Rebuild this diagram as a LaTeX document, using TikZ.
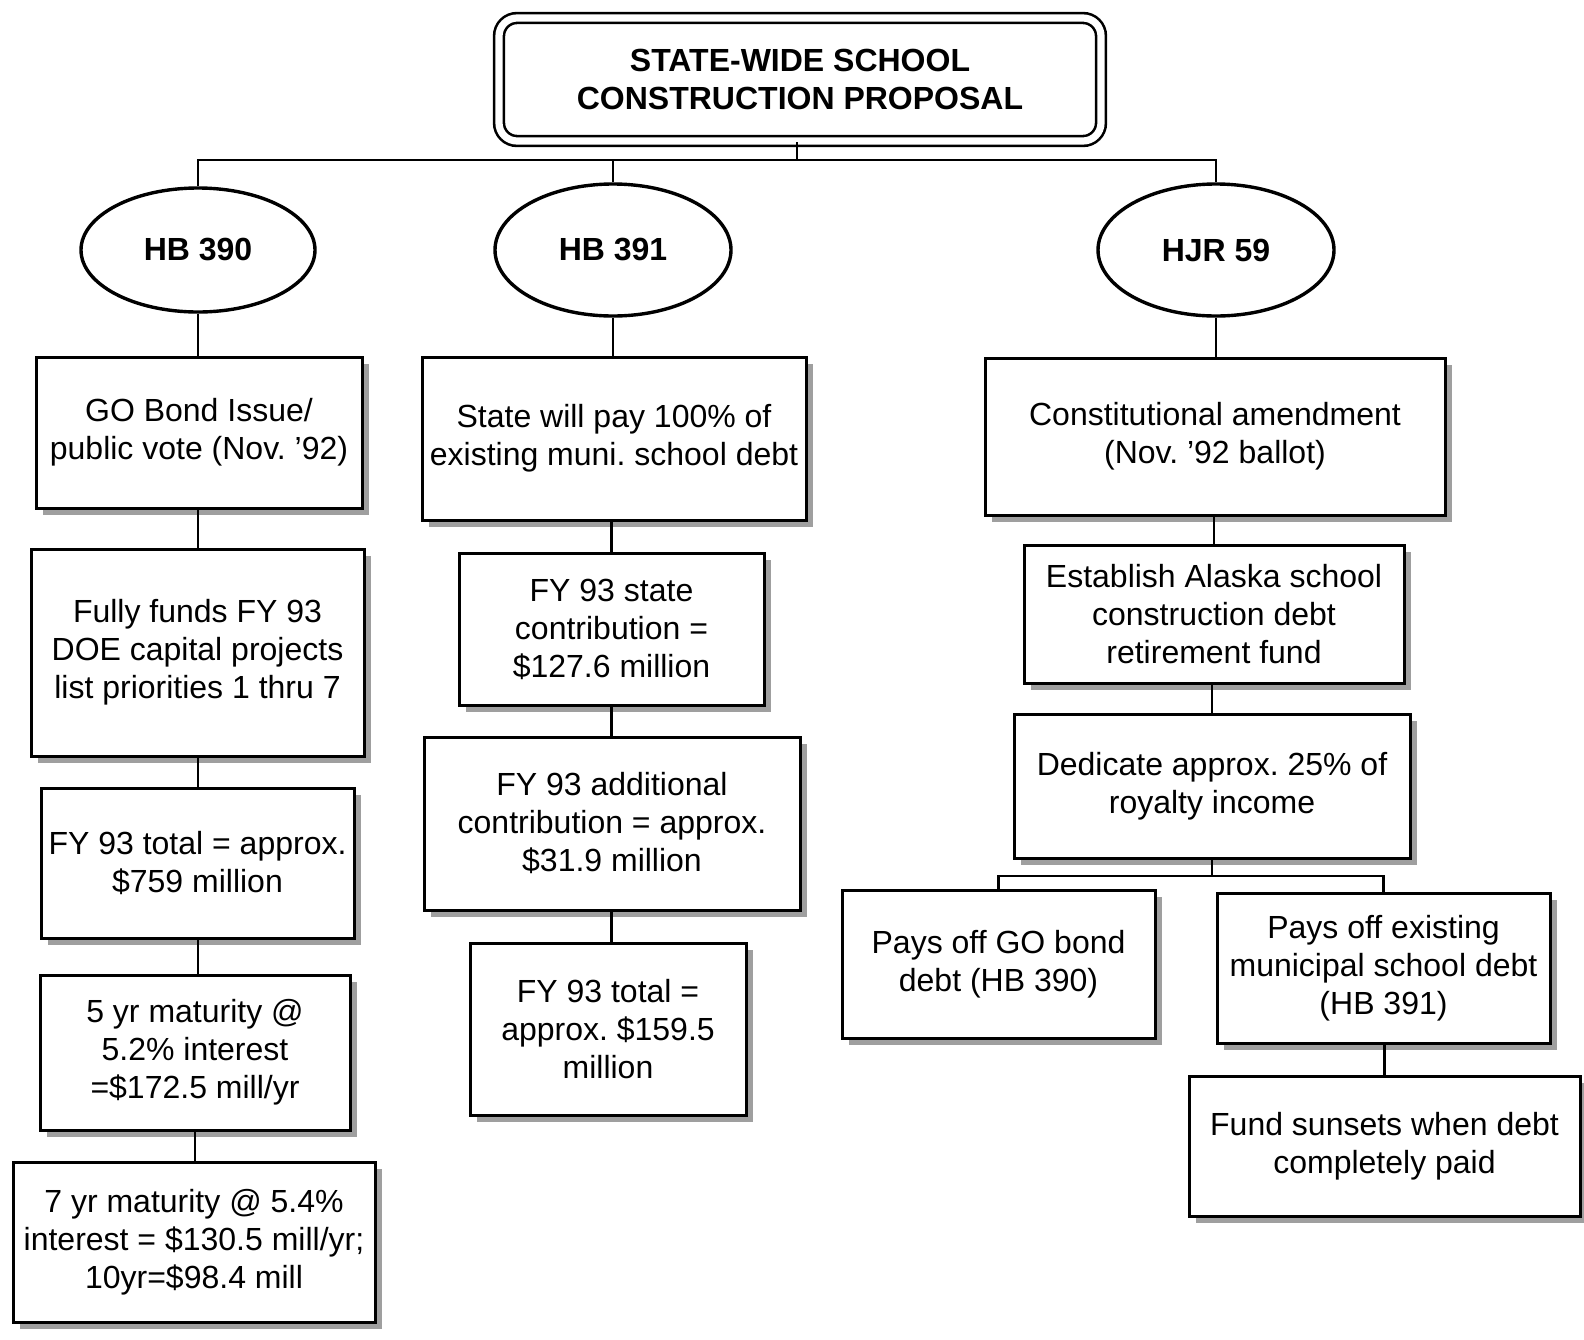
\documentclass[tikz,border=0pt]{standalone}
\usepackage{fontspec}
\setmainfont{Liberation Sans}
\usetikzlibrary{shapes.geometric,shadows}
\frenchspacing
\begin{document}
\begin{tikzpicture}[x=0.5pt,y=-0.5pt,
  txt/.style={font=\fontsize{16}{19}\selectfont},
  box/.style={draw, line width=1.5pt, fill=white, align=center, inner sep=1pt,
    txt, drop shadow={shadow xshift=3.4pt, shadow yshift=-3.6pt, fill=gray!75, opacity=1}},
  oval/.style={ellipse, draw, line width=1.7pt, fill=white, inner sep=0pt,
    minimum width=118pt, minimum height=66pt, font=\bfseries\fontsize{16}{19}\selectfont},
  titlebox/.style={draw, double, line width=1.3pt, double distance=3.6pt, rounded corners=9pt,
    fill=white, align=center, minimum width=301pt, minimum height=61.5pt,
    font=\bfseries\fontsize{16}{19}\selectfont},
  conn/.style={line width=1.1pt}]
\useasboundingbox (0,0) rectangle (1584,1339);
\fill[white] (0,0) rectangle (1584,1339);

% title
\node[titlebox] (title) at (800,79.5) {STATE-WIDE SCHOOL\\CONSTRUCTION PROPOSAL};

% ellipses
\node[oval, minimum width=117pt, minimum height=62pt] (e1) at (198,250) {HB 390};
\node[oval] (e2) at (613,250) {HB 391};
\node[oval] (e3) at (1216,250) {HJR 59};

% left column
\node[box, minimum width=163pt, minimum height=75.5pt] (l1) at (199,432.5) {GO Bond Issue/\\public vote (Nov. '92)};
\node[box, minimum width=166.5pt, minimum height=103.5pt] (l2) at (197.5,652.5) {Fully funds FY 93\\DOE capital projects\\list priorities 1 thru 7};
\node[box, minimum width=156.5pt, minimum height=75pt] (l3) at (197.5,863) {FY 93 total = approx.\\\$759 million};
\node[box, minimum width=155pt, minimum height=77.5pt] (l4) at (195,1052.5) {5 yr maturity @\\5.2\% interest\\=\$172.5 mill/yr};
\node[box, minimum width=181pt, minimum height=80pt] (l5) at (194,1242) {7 yr maturity @ 5.4\%\\interest = \$130.5 mill/yr;\\10yr=\$98.4 mill};

% middle column
\node[box, minimum width=192pt, minimum height=81.5pt] (m1) at (614,438.5) {State will pay 100\% of\\existing muni. school debt};
\node[box, minimum width=152.5pt, minimum height=76pt] (m2) at (611.5,629) {FY 93 state\\contribution =\\\$127.6 million};
\node[box, minimum width=188pt, minimum height=86.5pt] (m3) at (612,823.5) {FY 93 additional\\contribution = approx.\\\$31.9 million};
\node[box, minimum width=138pt, minimum height=86pt] (m4) at (608,1029) {FY 93 total =\\approx. \$159.5\\million};

% right column
\node[box, minimum width=230pt, minimum height=78.5pt] (r1) at (1215,436.5) {Constitutional amendment\\(Nov. '92 ballot)};
\node[box, minimum width=190pt, minimum height=69pt] (r2) at (1214,614) {Establish Alaska school\\construction debt\\retirement fund};
\node[box, minimum width=198pt, minimum height=72pt] (r3) at (1212,786) {Dedicate approx. 25\% of\\royalty income};
\node[box, minimum width=156.5pt, minimum height=74pt] (r4) at (998.5,964) {Pays off GO bond\\debt (HB 390)};
\node[box, minimum width=166.5pt, minimum height=75pt] (r5) at (1383.5,968) {Pays off existing\\municipal school debt\\(HB 391)};
\node[box, minimum width=195.5pt, minimum height=70pt] (r6) at (1384.5,1146) {Fund sunsets when debt\\completely paid};

% top bus
\coordinate (bus) at (797,160);
\draw[conn] (title.south -| bus) -- (bus);
\draw[conn] (e1.north) |- (bus) -| (e3.north);
\draw[conn] (e2.north) -- (e2.north |- bus);

% left column connectors
\draw[conn] (e1.south) -- (e1.south |- l1.north);
\draw[conn] (l1.south -| e1.south) -- (l2.north -| e1.south);
\draw[conn] (l2.south -| e1.south) -- (l3.north -| e1.south);
\draw[conn] (l3.south -| e1.south) -- (l4.north -| e1.south);
\draw[conn] (l4.south -| l4.south) -- (l5.north -| l4.south);

% middle column connectors
\draw[conn] (e2.south) -- (e2.south |- m1.north);
\draw[conn] (m1.south -| m2.north) -- (m2.north);
\draw[conn] (m2.south) -- (m3.north -| m2.south);
\draw[conn] (m3.south -| m2.south) -- (m4.north -| m2.south);

% right column connectors
\draw[conn] (e3.south) -- (e3.south |- r1.north);
\draw[conn] (r1.south -| r2.north) -- (r2.north);
\draw[conn] (r2.south -| r3.north) -- (r3.north);
\coordinate (rbus) at (1212,876);
\draw[conn] (r3.south) -- (rbus);
\draw[conn] (r4.north) |- (rbus) -| (r5.north);
\draw[conn] (r5.south -| r6.north) -- (r6.north);
\end{tikzpicture}
\end{document}
